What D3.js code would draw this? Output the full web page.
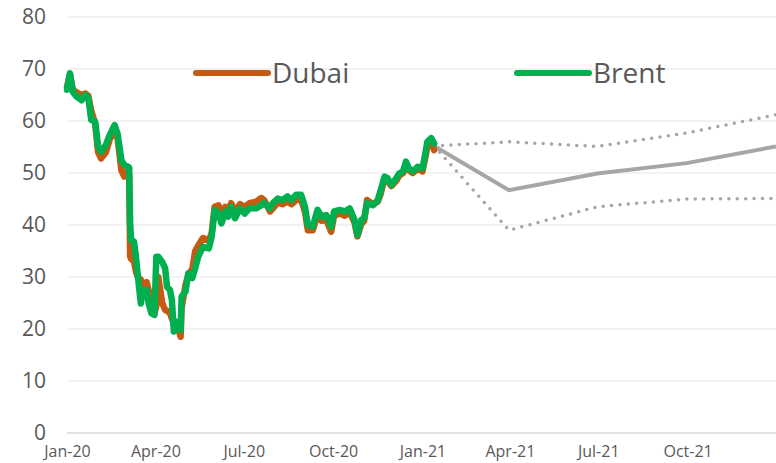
<!DOCTYPE html>
<html>
<head>
<meta charset="utf-8">
<script src="https://cdn.jsdelivr.net/npm/d3@7"></script>
<style>
  html, body { margin: 0; padding: 0; background: #fff; }
  svg { display: block; font-family: "Open Sans", sans-serif; }
</style>
</head>
<body>
<svg id="chart" width="776" height="463"></svg>
<script>
// daily-ish readings, 2020 through mid Jan 2021
const dates = [
  '2020-01-01','2020-01-04','2020-01-07','2020-01-11','2020-01-16','2020-01-20','2020-01-23','2020-01-26','2020-01-30',
  '2020-02-02','2020-02-05','2020-02-10','2020-02-14','2020-02-19','2020-02-22','2020-02-26','2020-02-29',
  '2020-03-04','2020-03-05','2020-03-06','2020-03-07','2020-03-10','2020-03-12','2020-03-14','2020-03-17','2020-03-19',
  '2020-03-23','2020-03-25','2020-03-28','2020-03-31',
  '2020-04-02','2020-04-04','2020-04-08','2020-04-11','2020-04-13','2020-04-16','2020-04-18','2020-04-20','2020-04-23',
  '2020-04-25','2020-04-27','2020-04-28',
  '2020-05-02','2020-05-05','2020-05-09','2020-05-12','2020-05-15','2020-05-20','2020-05-26','2020-05-29',
  '2020-06-01','2020-06-05','2020-06-08','2020-06-12','2020-06-15','2020-06-18','2020-06-22','2020-06-27',
  '2020-07-02','2020-07-07','2020-07-14','2020-07-19','2020-07-22','2020-07-28','2020-07-31',
  '2020-08-05','2020-08-10','2020-08-15','2020-08-19','2020-08-24','2020-08-29',
  '2020-09-02','2020-09-05','2020-09-10','2020-09-15','2020-09-19','2020-09-24','2020-09-29',
  '2020-10-02','2020-10-08','2020-10-13','2020-10-18','2020-10-23','2020-10-26','2020-10-30',
  '2020-11-02','2020-11-05','2020-11-11','2020-11-16','2020-11-19','2020-11-23','2020-11-26','2020-11-30',
  '2020-12-05','2020-12-08','2020-12-12','2020-12-15','2020-12-18','2020-12-22','2020-12-27',
  '2021-01-01','2021-01-04','2021-01-06','2021-01-10','2021-01-13'
];

const dubai = [
  66.5, 69.0, 66.0, 65.5, 65.0, 65.3, 64.8, 62.0, 59.5,
  54.0, 52.8, 54.0, 56.5, 58.0, 56.8, 50.5, 49.3,
  50.5, 49.5, 34.0, 33.5, 33.0, 31.0, 30.0, 29.5, 28.5,
  29.0, 27.5, 25.0, 23.0,
  24.5, 30.0, 25.0, 23.7, 23.5, 23.1, 22.0, 21.1, 20.5,
  19.8, 18.5, 24.0,
  28.5, 30.5, 31.5, 35.0, 36.0, 37.5, 37.0, 38.5,
  43.5, 43.8, 41.5, 43.5, 42.8, 44.2, 42.5, 44.0,
  43.5, 44.2, 44.5, 45.2, 44.8, 42.6, 43.2,
  44.3, 44.0, 44.6, 44.0, 44.8, 45.0,
  42.5, 39.0, 39.0, 42.0, 40.8, 41.0, 38.7,
  41.8, 42.2, 41.8, 42.5, 40.5, 37.8, 40.2,
  40.8, 44.8, 44.0, 44.5, 46.0, 49.0, 48.5, 47.5,
  48.5, 49.5, 50.0, 51.5, 50.5, 50.0, 50.8,
  50.3, 53.0, 55.0, 56.0, 54.4
];

const brent = [
  66.0, 69.2, 65.6, 64.7, 64.0, 65.0, 64.4, 60.2, 59.9,
  55.1, 54.1, 55.4, 57.3, 59.2, 57.6, 52.5, 51.5,
  51.2, 51.0, 40.4, 37.1, 36.8, 33.9, 30.1, 24.9, 27.5,
  27.5, 25.0, 23.0, 22.7,
  33.9, 33.9, 32.9, 31.7, 28.1, 27.5, 25.6, 19.5, 21.4,
  20.8, 19.8, 26.2,
  27.2, 30.7, 29.8, 31.7, 33.9, 35.8, 35.5, 37.8,
  42.9, 42.2, 40.3, 42.6, 41.6, 43.5, 41.3, 43.2,
  42.2, 43.2, 43.2, 43.8, 44.2, 43.2, 44.2,
  45.1, 44.8, 45.5, 44.8, 45.8, 45.8,
  43.5, 40.0, 39.7, 42.9, 41.6, 41.9, 39.7,
  42.6, 42.9, 42.6, 43.2, 41.0, 38.1, 41.0,
  41.3, 44.2, 43.8, 44.8, 46.7, 49.3, 49.0, 47.7,
  49.0, 49.9, 50.3, 52.2, 50.9, 50.3, 51.2,
  50.9, 53.8, 56.0, 56.7, 55.7
];

// forecast path: base case with high / low range
const fcDates = ['2021-01-13', '2021-03-31', '2021-06-30', '2021-09-30', '2021-12-31'];
const fcBase = [55.2, 46.7, 49.9, 51.9, 55.1];
const fcHigh = [55.2, 56.0, 55.1, 57.7, 61.2];
const fcLow  = [55.2, 39.0, 43.5, 45.0, 45.1];

const yTicks = [0, 10, 20, 30, 40, 50, 60, 70, 80];
const xTicks = ['2020-01-01','2020-04-01','2020-07-01','2020-10-01','2021-01-01','2021-04-01','2021-07-01','2021-10-01'];

const parse = d3.timeParse('%Y-%m-%d');
const fmt = d3.timeFormat('%b-%y');

const svg = d3.select('#chart');
const margin = { top: 17, right: 0, bottom: 30, left: 67 };
const width = 776, height = 463;

const x = d3.scaleTime()
  .domain([parse('2020-01-01'), parse('2021-12-31')])
  .range([margin.left, width - margin.right]);
const y = d3.scaleLinear().domain([0, 80]).range([height - margin.bottom, margin.top]);

// gridlines
svg.append('g')
  .selectAll('line')
  .data(yTicks)
  .join('line')
  .attr('x1', margin.left)
  .attr('x2', width)
  .attr('y1', d => y(d))
  .attr('y2', d => y(d))
  .attr('stroke', d => d === 0 ? '#d9d9d9' : '#efefef')
  .attr('stroke-width', 1.5);

// y axis labels
const yAxis = svg.append('g')
  .attr('transform', `translate(${margin.left - 21},0)`)
  .call(d3.axisLeft(y).tickValues(yTicks).tickSize(0).tickPadding(0));
yAxis.select('.domain').remove();
yAxis.selectAll('text')
  .attr('fill', '#595959')
  .style('font-size', '21px')
  .style('font-family', '"Open Sans", sans-serif');

// x axis labels
const xAxis = svg.append('g')
  .attr('transform', `translate(0,${height - margin.bottom})`)
  .call(d3.axisBottom(x).tickValues(xTicks.map(parse)).tickFormat(fmt).tickSize(0).tickPadding(13));
xAxis.select('.domain').remove();
xAxis.selectAll('text')
  .attr('fill', '#595959')
  .style('font-size', '16px')
  .style('font-family', '"Open Sans", sans-serif');

const line = d3.line()
  .x(d => x(d[0]))
  .y(d => y(d[1]));

const zip = (ds, vs) => ds.map((d, i) => [parse(d), vs[i]]);

// forecast lines
const grey = '#a6a6a6';
[fcHigh, fcLow].forEach(vals => {
  svg.append('path')
    .datum(zip(fcDates, vals))
    .attr('d', line)
    .attr('fill', 'none')
    .attr('stroke', grey)
    .attr('stroke-width', 3.5)
    .attr('stroke-linecap', 'round')
    .attr('stroke-dasharray', '0 8.4');
});
svg.append('path')
  .datum(zip(fcDates, fcBase))
  .attr('d', line)
  .attr('fill', 'none')
  .attr('stroke', grey)
  .attr('stroke-width', 4);

const orange = '#c55a11';
const green = '#00b050';

svg.append('path')
  .datum(zip(dates, dubai))
  .attr('d', line)
  .attr('fill', 'none')
  .attr('stroke', orange)
  .attr('stroke-width', 6.5)
  .attr('stroke-linejoin', 'round')
  .attr('stroke-linecap', 'round');

svg.append('path')
  .datum(zip(dates, brent))
  .attr('d', line)
  .attr('fill', 'none')
  .attr('stroke', green)
  .attr('stroke-width', 6.5)
  .attr('stroke-linejoin', 'round')
  .attr('stroke-linecap', 'round');

// legend
const legend = [
  { name: 'Dubai', color: orange, x: 196 },
  { name: 'Brent', color: green, x: 517 }
];
const lg = svg.append('g').selectAll('g').data(legend).join('g');
lg.append('line')
  .attr('x1', d => d.x).attr('x2', d => d.x + 72)
  .attr('y1', 73).attr('y2', 73)
  .attr('stroke', d => d.color)
  .attr('stroke-width', 6)
  .attr('stroke-linecap', 'round');
lg.append('text')
  .attr('x', d => d.x + 76)
  .attr('y', 83)
  .attr('fill', '#595959')
  .style('font-size', '28px')
  .text(d => d.name);
</script>
</body>
</html>
